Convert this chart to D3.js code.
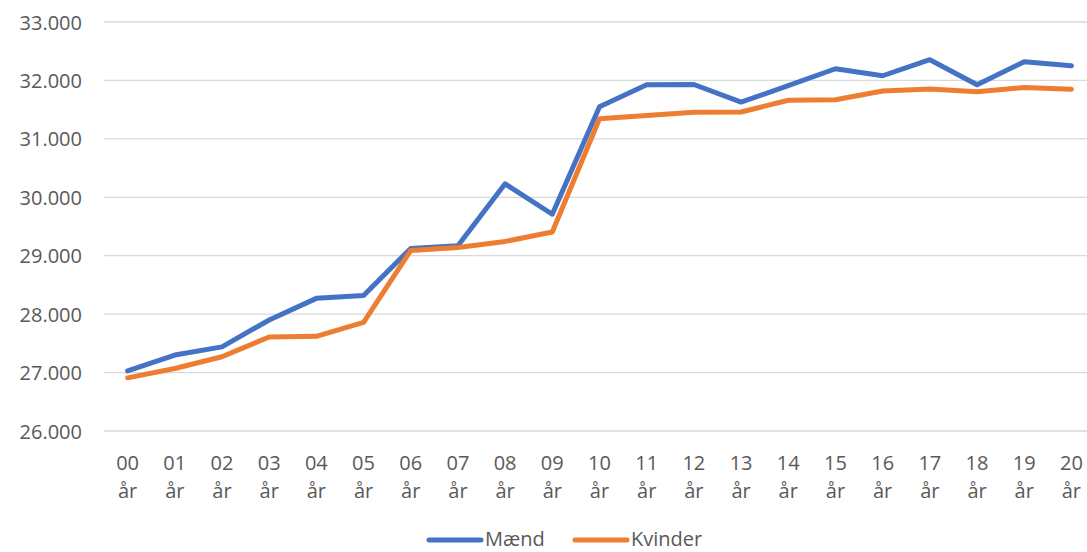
<!DOCTYPE html>
<html>
<head>
<meta charset="utf-8">
<script src="https://cdn.jsdelivr.net/npm/d3@7"></script>
<style>
  body { margin: 0; background: #fff; }
  #chart text { font-family: "Open Sans", "DejaVu Sans", sans-serif; fill: #595959; }
</style>
</head>
<body>
<div id="chart"></div>
<script>
// categories and series values
const years = ["00", "01", "02", "03", "04", "05", "06", "07", "08", "09", "10",
               "11", "12", "13", "14", "15", "16", "17", "18", "19", "20"];
const maend = [27030, 27300, 27440, 27900, 28270, 28320, 29125, 29170, 30230, 29710, 31550,
               31925, 31930, 31630, 31910, 32200, 32080, 32355, 31925, 32320, 32250];
const kvinder = [26910, 27070, 27270, 27610, 27620, 27860, 29090, 29140, 29245, 29405, 31345,
                 31400, 31455, 31460, 31660, 31670, 31820, 31855, 31805, 31880, 31850];
const yTicks = [26000, 27000, 28000, 29000, 30000, 31000, 32000, 33000];

const width = 1087, height = 552;
const plotLeft = 104, plotRight = 1095, plotTop = 22, plotBottom = 431;

const svg = d3.select("#chart")
  .append("svg")
    .attr("width", width)
    .attr("height", height);

const x = d3.scalePoint()
  .domain(years)
  .range([plotLeft, plotRight])
  .padding(0.5);

const y = d3.scaleLinear()
  .domain([26000, 33000])
  .range([plotBottom, plotTop]);

const fmt = d => d3.format(",")(d).replace(/,/g, ".");

// gridlines
svg.append("g")
  .selectAll("line")
  .data(yTicks)
  .join("line")
    .attr("x1", plotLeft)
    .attr("x2", width)
    .attr("y1", d => y(d))
    .attr("y2", d => y(d))
    .attr("stroke", "#d9d9d9")
    .attr("stroke-width", 1.3);

// y labels
svg.append("g")
  .selectAll("text")
  .data(yTicks)
  .join("text")
    .attr("x", 82)
    .attr("y", d => y(d) + 7.5)
    .attr("text-anchor", "end")
    .style("font-size", "20px")
    .text(fmt);

// x labels, two lines
const xl = svg.append("g")
  .selectAll("text")
  .data(years)
  .join("text")
    .attr("text-anchor", "middle")
    .style("font-size", "20px");
xl.append("tspan")
  .attr("x", d => x(d))
  .attr("y", 470)
  .text(d => d);
xl.append("tspan")
  .attr("x", d => x(d))
  .attr("y", 498)
  .text("år");

const series = [
  { name: "Mænd", values: maend, color: "#4472c4" },
  { name: "Kvinder", values: kvinder, color: "#ed7d31" }
];

const line = d3.line()
  .x((d, i) => x(years[i]))
  .y(d => y(d));

svg.append("g")
  .selectAll("path")
  .data(series)
  .join("path")
    .attr("d", d => line(d.values))
    .attr("fill", "none")
    .attr("stroke", d => d.color)
    .attr("stroke-width", 5)
    .attr("stroke-linejoin", "round")
    .attr("stroke-linecap", "round");

// legend
const legendX = [429, 575];
const lg = svg.append("g")
  .selectAll("g")
  .data(series)
  .join("g")
    .attr("transform", (d, i) => `translate(${legendX[i]}, 540)`);
lg.append("line")
  .attr("x1", 0)
  .attr("x2", 52)
  .attr("stroke", d => d.color)
  .attr("stroke-width", 5)
  .attr("stroke-linecap", "round");
lg.append("text")
  .attr("x", 56)
  .attr("y", 6)
  .style("font-size", "20px")
  .text(d => d.name);
</script>
</body>
</html>
